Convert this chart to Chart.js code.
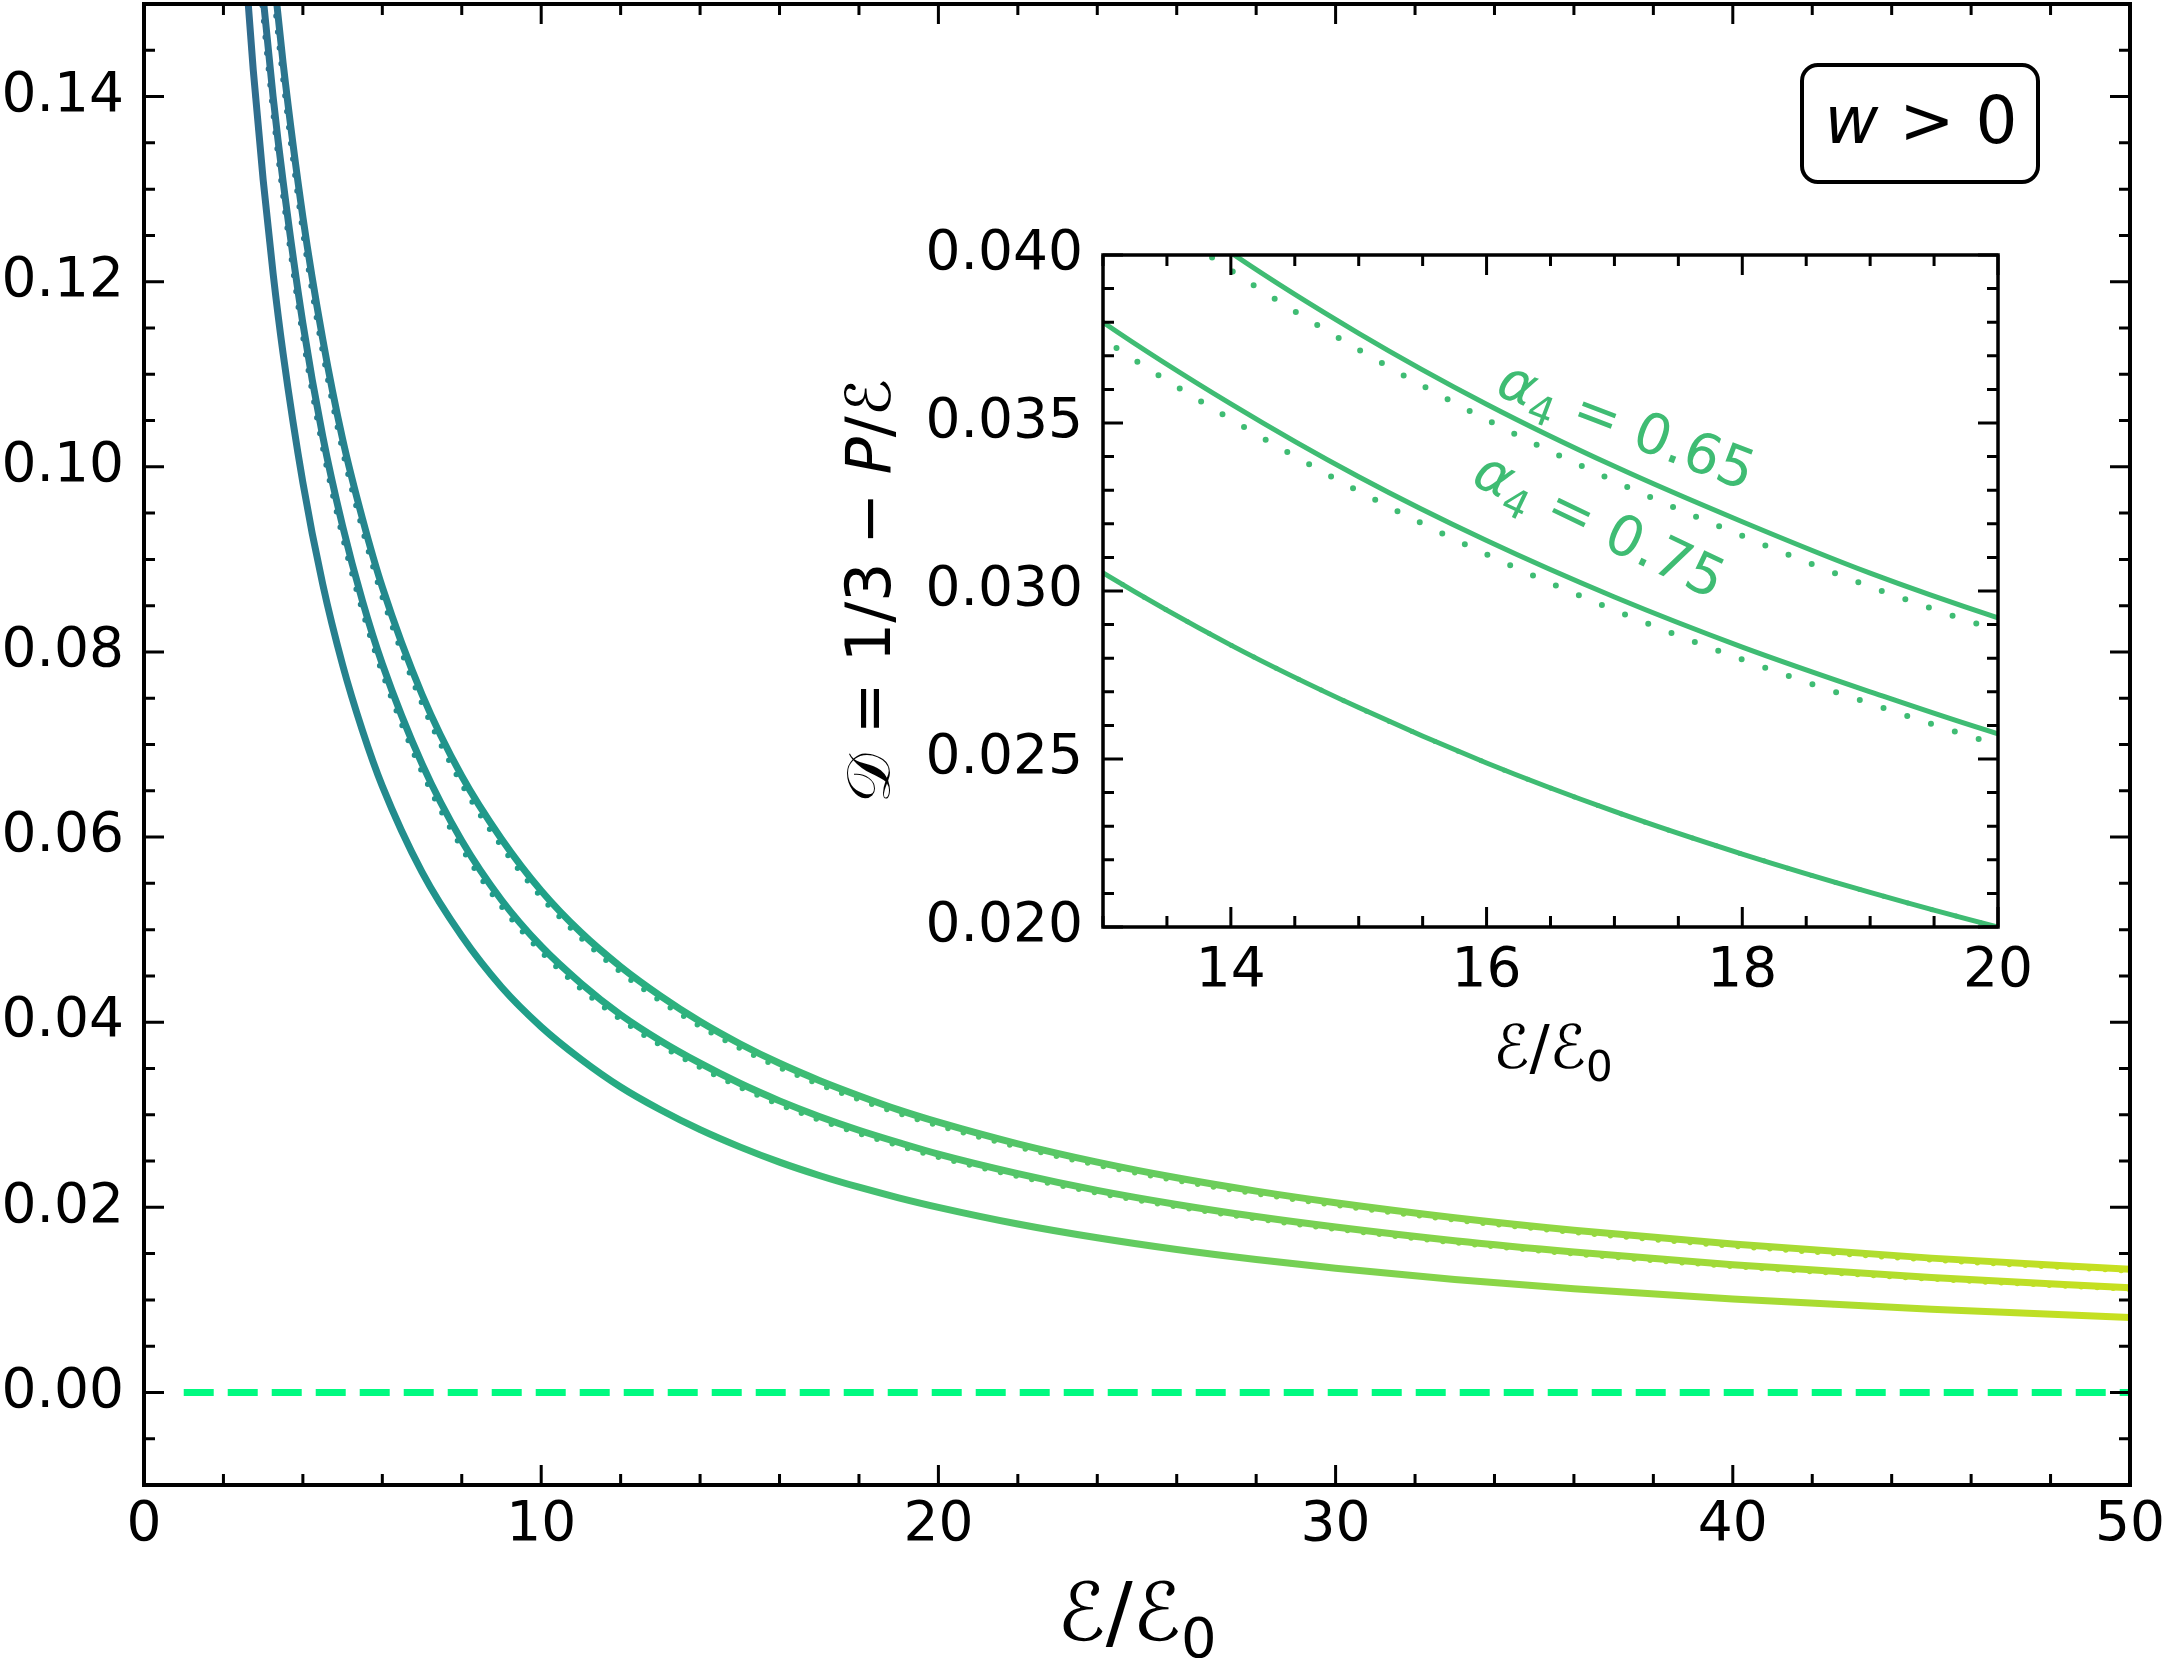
<!DOCTYPE html>
<html>
<head>
<meta charset="utf-8">
<script src="https://cdn.jsdelivr.net/npm/chart.js@4.4.1/dist/chart.umd.min.js"></script>
<style>
  html, body { margin: 0; padding: 0; background: #fff; }
  #wrap { position: relative; width: 2165px; height: 1658px; }
  canvas { position: absolute; left: 0; top: 0; }
</style>
</head>
<body>
<div id="wrap">
  <canvas id="mainChart" width="2165" height="1658"></canvas>
  <canvas id="insetChart" width="2165" height="1658"></canvas>
</div>
<script>
// energy density E/E0 (x values shared by every curve)
const energy = [2.5, 2.75, 3, 3.25, 3.5, 4, 4.5, 5, 5.5, 6, 7, 8, 9, 10, 11, 12, 13, 14, 15, 16,
                17, 18, 19, 20, 22, 24, 26, 28, 30, 33, 36, 40, 45, 50];

// D = 1/3 - P/E, solid curves (lowest, middle alpha4 = 0.75, top alpha4 = 0.65)
const curveLow = [0.1572, 0.1429, 0.1310, 0.1209, 0.1123, 0.0983, 0.0873, 0.0786, 0.0715, 0.0655,
                  0.0562, 0.0493, 0.0438, 0.0395, 0.0360, 0.0330, 0.03054, 0.02839, 0.02653, 0.02488,
                  0.02344, 0.02217, 0.02103, 0.02000, 0.01820, 0.01671, 0.01544, 0.01436, 0.01342, 0.01221,
                  0.01121, 0.01010, 0.00899, 0.00810];
const curveMid = [0.1780, 0.1629, 0.1507, 0.1400, 0.1309, 0.1155, 0.1033, 0.0936, 0.0855, 0.0787,
                  0.0679, 0.0596, 0.0532, 0.0482, 0.0442, 0.0408, 0.0380, 0.03557, 0.03340, 0.03150,
                  0.02982, 0.02833, 0.02700, 0.02575, 0.02364, 0.02183, 0.02031, 0.01900, 0.01787, 0.01639,
                  0.01517, 0.01380, 0.01242, 0.01130];
const curveHigh = [0.1960, 0.1796, 0.1657, 0.1538, 0.1437, 0.1270, 0.1138, 0.1030, 0.0944, 0.0870,
                   0.0754, 0.0666, 0.0598, 0.0542, 0.0497, 0.0460, 0.04285, 0.04007, 0.03767, 0.03556,
                   0.03371, 0.03206, 0.03053, 0.02920, 0.02686, 0.02488, 0.02319, 0.02175, 0.02050, 0.01888,
                   0.01753, 0.01603, 0.01451, 0.01330];

// dotted companion curves (the lowest one lies on top of curveLow)
const curveMidDotted = [0.1757, 0.1608, 0.1487, 0.1382, 0.1292, 0.1140, 0.1020, 0.0924, 0.0844, 0.0777,
                        0.0670, 0.0588, 0.0525, 0.0476, 0.0436, 0.0403, 0.0375, 0.03511, 0.03297, 0.03109,
                        0.02943, 0.02796, 0.02665, 0.02542, 0.02333, 0.02155, 0.02005, 0.01875, 0.01764, 0.01618,
                        0.01497, 0.01362, 0.01226, 0.01115];
const curveHighDotted = [0.1935, 0.1773, 0.1635, 0.1518, 0.1418, 0.1253, 0.1123, 0.1017, 0.0932, 0.0859,
                         0.0744, 0.0657, 0.0590, 0.0535, 0.0491, 0.0454, 0.04229, 0.03955, 0.03718, 0.03510,
                         0.03327, 0.03164, 0.03013, 0.02882, 0.02651, 0.02456, 0.02289, 0.02147, 0.02023, 0.01863,
                         0.01730, 0.01582, 0.01432, 0.01313];

// conformal limit D = 0
const zeroLineX = [1, 50];
const zeroLineY = [0, 0];

// tick labels
const mainXTicks = [0, 10, 20, 30, 40, 50];
const mainYTicks = [0, 0.02, 0.04, 0.06, 0.08, 0.10, 0.12, 0.14];
const insetXTicks = [14, 16, 18, 20];
const insetYTicks = [0.020, 0.025, 0.030, 0.035, 0.040];

// inset annotations: alpha4 value and where it sits (data coords)
const alphaValues = ['0.65', '0.75'];
const alphaAtX = [17.10, 16.89];
const alphaAtY = [0.03497, 0.0320];

const FONT = "'DejaVu Sans', sans-serif";
const INSET_GREEN = '#3fbc73';

// colour along E/E0 (viridis-like)
const gradientStops = [[0, '#3b528b'], [2.5, '#306a8e'], [3.5, '#2c758e'], [5, '#26818e'], [7, '#21918c'],
  [10, '#1fa188'], [13, '#2bb07f'], [16, '#3bbb75'], [20, '#4ac16d'], [25, '#63cb5f'], [30, '#7ad151'],
  [35, '#8fd744'], [40, '#a2da37'], [45, '#b5de2b'], [50, '#c8e020']];

function pts(xs, ys) {
    return xs.map((x, i) => ({ x: x, y: ys[i] }));
}

function alongX(context) {
    const chart = context.chart;
    if (!chart.chartArea) return gradientStops[5][1];
    const sx = chart.scales.x;
    const x0 = sx.getPixelForValue(0);
    const x1 = sx.getPixelForValue(50);
    const g = chart.ctx.createLinearGradient(x0, 0, x1, 0);
    gradientStops.forEach(s => g.addColorStop(s[0] / 50, s[1]));
    return g;
}

function solid(ys, color, width) {
    return { data: pts(energy, ys), borderColor: color, borderWidth: width, pointRadius: 0,
             cubicInterpolationMode: 'monotone', borderJoinStyle: 'round', fill: false };
}

function dotted(ys, color, width, gap) {
    return { data: pts(energy, ys), borderColor: color, borderWidth: width, pointRadius: 0,
             cubicInterpolationMode: 'monotone', borderDash: [0, gap], borderCapStyle: 'round',
             fill: false };
}

function fontOf(p) {
    return (p.italic ? 'italic ' : '') + p.size + 'px ' + FONT;
}

// text made of pieces (italic letters, subscripts); (cx, cy) is the middle of the baseline
function drawParts(ctx, parts, cx, cy, angle, color) {
    ctx.save();
    ctx.translate(cx, cy);
    ctx.rotate(angle);
    ctx.fillStyle = color;
    ctx.textBaseline = 'alphabetic';
    ctx.textAlign = 'left';
    let total = 0;
    const widths = parts.map(p => {
        ctx.font = fontOf(p);
        const w = ctx.measureText(p.t).width + (p.gap || 0);
        total += w;
        return w;
    });
    let x = -total / 2;
    parts.forEach((p, i) => {
        ctx.font = fontOf(p);
        ctx.fillText(p.t, x, p.dy || 0);
        x += widths[i];
    });
    ctx.restore();
}

// inward major/minor ticks on all four sides plus the frame
const frameTicks = {
    id: 'frameTicks',
    afterDatasetsDraw(chart, args, opts) {
        const { ctx, chartArea: a } = chart;
        const sx = chart.scales.x, sy = chart.scales.y;
        ctx.save();
        ctx.strokeStyle = '#000';
        ctx.lineWidth = opts.tickWidth;
        ctx.beginPath();
        const tickX = (v, len) => {
            const p = sx.getPixelForValue(v);
            ctx.moveTo(p, a.bottom); ctx.lineTo(p, a.bottom - len);
            ctx.moveTo(p, a.top); ctx.lineTo(p, a.top + len);
        };
        const tickY = (v, len) => {
            const p = sy.getPixelForValue(v);
            ctx.moveTo(a.left, p); ctx.lineTo(a.left + len, p);
            ctx.moveTo(a.right, p); ctx.lineTo(a.right - len, p);
        };
        const nx = Math.round((sx.max - sx.min) / opts.xMinor);
        for (let i = 0; i <= nx; i++) tickX(sx.min + i * opts.xMinor, opts.minorLen);
        const ny = Math.round((sy.max - sy.min) / opts.yMinor);
        for (let i = 0; i <= ny; i++) tickY(sy.min + i * opts.yMinor, opts.minorLen);
        sx.ticks.forEach(t => tickX(t.value, opts.majorLen));
        sy.ticks.forEach(t => tickY(t.value, opts.majorLen));
        ctx.stroke();
        ctx.lineWidth = opts.frameWidth;
        ctx.strokeRect(a.left, a.top, a.right - a.left, a.bottom - a.top);
        ctx.restore();
    }
};

const mainText = {
    id: 'mainText',
    afterDraw(chart) {
        const ctx = chart.ctx;
        drawParts(ctx, [{ t: 'ℰ/ℰ', size: 80 }, { t: '0', size: 56, dy: 17 }], 1137, 1640, 0, '#000');
        ctx.save();
        ctx.lineWidth = 4;
        ctx.strokeStyle = '#000';
        ctx.fillStyle = '#fff';
        ctx.beginPath();
        ctx.roundRect(1802, 65, 236, 117, 16);
        ctx.fill();
        ctx.stroke();
        ctx.restore();
        drawParts(ctx, [{ t: 'w', size: 66, italic: true }, { t: ' > 0', size: 66 }], 1921, 143, 0, '#000');
    }
};

const insetText = {
    id: 'insetText',
    afterDraw(chart) {
        const ctx = chart.ctx;
        const sx = chart.scales.x, sy = chart.scales.y;
        drawParts(ctx, [{ t: '𝒟', size: 62, gap: 20 }, { t: '=', size: 62, gap: 20 }, { t: '1/3', size: 62, gap: 18 },
                        { t: '−', size: 62, gap: 18 }, { t: 'P', size: 62, italic: true }, { t: '/ℰ', size: 62 }],
                  890, 591, -Math.PI / 2, '#000');
        drawParts(ctx, [{ t: 'ℰ/ℰ', size: 60 }, { t: '0', size: 42, dy: 13 }], 1553, 1068, 0, '#000');
        const angles = [21, 25.5];
        alphaValues.forEach((v, i) => {
            const px = sx.getPixelForValue(alphaAtX[i]);
            const py = sy.getPixelForValue(alphaAtY[i]);
            const ang = angles[i] * Math.PI / 180;
            // shift from the visual centre to the baseline
            const bx = px - Math.sin(ang) * 20, by = py + Math.cos(ang) * 20;
            drawParts(ctx, [{ t: 'α', size: 56, italic: true }, { t: '4', size: 40, dy: 12 },
                            { t: ' = ' + v, size: 56 }], bx, by, ang, INSET_GREEN);
        });
    }
};

const tickFont = { family: FONT, size: 55 };

function xScale(min, max, ticks, height, pad, fmt) {
    return {
        type: 'linear', min: min, max: max,
        grid: { display: false, drawTicks: false }, border: { display: false },
        afterBuildTicks: s => { s.ticks = ticks.map(v => ({ value: v })); },
        afterFit: s => { s.height = height; s.paddingLeft = 0; s.paddingRight = 0; },
        ticks: { font: tickFont, color: '#000', padding: pad, maxRotation: 0, autoSkip: false, callback: fmt }
    };
}

function yScale(min, max, ticks, width, pad, fmt) {
    return {
        type: 'linear', min: min, max: max,
        grid: { display: false, drawTicks: false }, border: { display: false },
        afterBuildTicks: s => { s.ticks = ticks.map(v => ({ value: v })); },
        afterFit: s => { s.width = width; s.paddingTop = 0; s.paddingBottom = 0; },
        ticks: { font: tickFont, color: '#000', padding: pad, autoSkip: false, callback: fmt }
    };
}

const zeroLine = { data: pts(zeroLineX, zeroLineY), borderColor: '#00fa80', borderWidth: 7,
                   borderDash: [30, 14], borderCapStyle: 'butt', pointRadius: 0, fill: false };

new Chart(document.getElementById('mainChart'), {
    type: 'line',
    data: {
        datasets: [
            dotted(curveHighDotted, alongX, 5.5, 16),
            dotted(curveMidDotted, alongX, 5.5, 16),
            dotted(curveLow, alongX, 5.5, 16),
            solid(curveHigh, alongX, 7),
            solid(curveMid, alongX, 7),
            solid(curveLow, alongX, 7),
            zeroLine
        ]
    },
    options: {
        responsive: false, animation: false, devicePixelRatio: 1,
        layout: { padding: { left: 0, top: 4, right: 35, bottom: 0 } },
        plugins: {
            legend: { display: false }, tooltip: { enabled: false },
            frameTicks: { xMinor: 2, yMinor: 0.005, majorLen: 20, minorLen: 11, tickWidth: 3, frameWidth: 4 }
        },
        scales: {
            x: xScale(0, 50, mainXTicks, 173, 8, v => String(v)),
            y: yScale(-0.01, 0.15, mainYTicks, 144, 20, v => v.toFixed(2))
        }
    },
    plugins: [frameTicks, mainText]
});

new Chart(document.getElementById('insetChart'), {
    type: 'line',
    data: {
        datasets: [
            dotted(curveHighDotted, INSET_GREEN, 6, 25),
            dotted(curveMidDotted, INSET_GREEN, 6, 25),
            dotted(curveLow, INSET_GREEN, 5, 25),
            solid(curveHigh, INSET_GREEN, 5),
            solid(curveMid, INSET_GREEN, 5),
            solid(curveLow, INSET_GREEN, 5)
        ]
    },
    options: {
        responsive: false, animation: false, devicePixelRatio: 1,
        layout: { padding: { left: 903, top: 255, right: 167, bottom: 631 } },
        plugins: {
            legend: { display: false }, tooltip: { enabled: false },
            frameTicks: { xMinor: 0.5, yMinor: 0.001, majorLen: 20, minorLen: 11, tickWidth: 3, frameWidth: 3.5 }
        },
        scales: {
            x: xScale(13, 20, insetXTicks, 100, 12, v => String(v)),
            y: yScale(0.020, 0.040, insetYTicks, 200, 20, v => v.toFixed(3))
        }
    },
    plugins: [frameTicks, insetText]
});
</script>
</body>
</html>
